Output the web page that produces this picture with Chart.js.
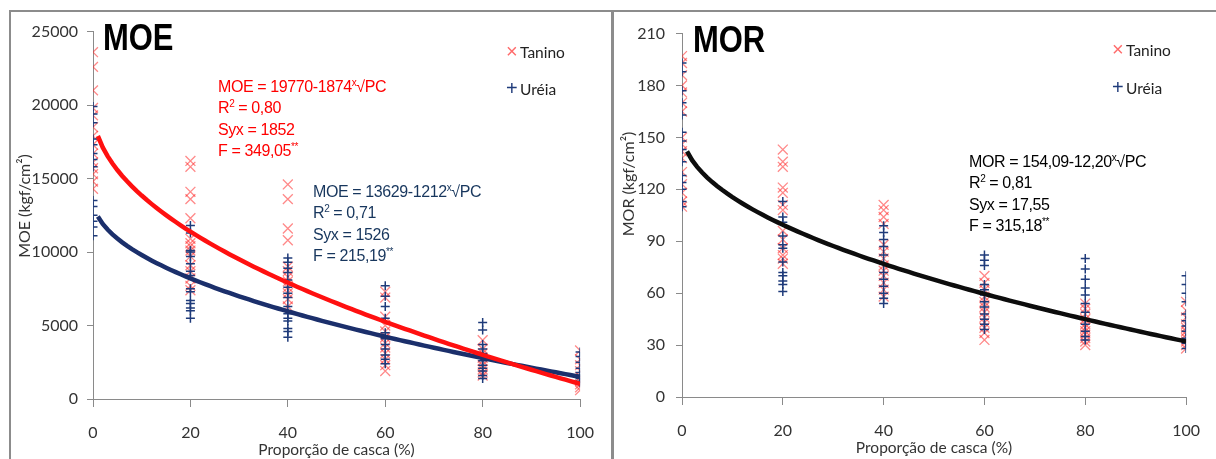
<!DOCTYPE html>
<html>
<head>
<meta charset="utf-8">
<script src="https://cdn.jsdelivr.net/npm/chart.js@4.4.1/dist/chart.umd.min.js"></script>
<style>
  body { margin: 0; background: #fff; overflow: hidden; }
  #page { position: relative; width: 1216px; height: 459px; background: #fff; }
  .frame { position: absolute; background: #8c8c8c; }
  .box { position: absolute; }
  .title { position: absolute; font-family: "Liberation Sans", Arial, sans-serif; font-weight: bold; font-size: 36px; line-height: 40px; transform: scaleX(0.86); transform-origin: left top; color: #000; }
  .eq { position: absolute; font-family: "Liberation Sans", Arial, sans-serif; font-size: 16px; line-height: 21.3px; letter-spacing: -0.4px; white-space: nowrap; }
  .eq sup { font-size: 10px; vertical-align: 6px; line-height: 0; }
  .leg { position: absolute; font-family: Lato, sans-serif; font-size: 15.5px; color: #222; white-space: nowrap; line-height: 18px; }
  .leg .mk { position: absolute; left: -14px; top: -1px; font-family: "Liberation Sans", sans-serif; font-size: 20px; }
  .ytitle { position: absolute; width: 160px; height: 20px; line-height: 20px; text-align: center; font-family: Lato, sans-serif; font-size: 16px; color: #333; transform: rotate(-90deg); white-space: nowrap; }
</style>
</head>
<body>
<div id="page">
  <div class="frame" style="left:9px; top:10px; width:1207px; height:2px;"></div>
  <div class="frame" style="left:9px; top:10px; width:2px; height:449px;"></div>
  <div class="frame" style="left:611px; top:10px; width:3px; height:449px;"></div>

  <div class="box" style="left:12px; top:13px; width:598px; height:446px;"><canvas id="chartMoe"></canvas></div>
  <div class="box" style="left:616px; top:13px; width:600px; height:446px;"><canvas id="chartMor"></canvas></div>

  <div class="ytitle" style="left:-56px; top:196px;">MOE (kgf/cm²)</div>
  <div class="ytitle" style="left:548px; top:174px;">MOR (kgf/cm²)</div>

  <div class="title" style="left:103px; top:18px;">MOE</div>
  <div class="title" style="left:693px; top:20px;">MOR</div>

  <div class="leg" style="left:520px; top:43px;"><span class="mk" style="color:#ff6b6b;">×</span>Tanino</div>
  <div class="leg" style="left:520px; top:80px;"><span class="mk" style="color:#1f3b7a;">+</span>Uréia</div>
  <div class="leg" style="left:1126px; top:41px;"><span class="mk" style="color:#ff6b6b;">×</span>Tanino</div>
  <div class="leg" style="left:1126px; top:79px;"><span class="mk" style="color:#1f3b7a;">+</span>Uréia</div>

  <div class="eq" style="left:218px; top:76px; color:#ff0000;">
    MOE = 19770-1874<sup>x</sup>√PC<br>R<sup>2</sup> = 0,80<br>Syx = 1852<br>F = 349,05<sup>**</sup>
  </div>
  <div class="eq" style="left:313px; top:181px; color:#17365d;">
    MOE = 13629-1212<sup>x</sup>√PC<br>R<sup>2</sup> = 0,71<br>Syx = 1526<br>F = 215,19<sup>**</sup>
  </div>
  <div class="eq" style="left:969px; top:151px; color:#000;">
    MOR = 154,09-12,20<sup>x</sup>√PC<br>R<sup>2</sup> = 0,81<br>Syx = 17,55<br>F = 315,18<sup>**</sup>
  </div>
</div>

<script>
// proporção de casca (%) for each group of boards
const proporcao = [0, 20, 40, 60, 80, 100];

// MOE (kgf/cm²) per proportion, one inner list for each x group
const moeTanino = [
  [23600, 22600, 21000, 19800, 19300, 18500, 17900, 17300, 16700, 16100, 15700, 15300, 14800, 14300],
  [16200, 15800, 14100, 13600, 12300, 10900, 10600, 10400, 10100, 9700, 9100, 8700, 8200, 7700, 7400],
  [14600, 13600, 11600, 10800, 9000, 8700, 8300, 8000, 7600, 7200, 6800, 6300],
  [7300, 6900, 5600, 5000, 4600, 4200, 3800, 3500, 3100, 2700, 2300, 1900],
  [4000, 3400, 3100, 2800, 2600, 2300, 2000, 1800, 1600],
  [3300, 2700, 2300, 1900, 1500, 1200, 1000, 800, 600]
];
const moeUreia = [
  [19900, 19400, 18800, 17700, 17300, 16700, 16300, 15800, 13500, 13100, 12500, 12100, 11700, 11100],
  [11800, 11300, 10100, 10000, 9700, 9200, 8700, 8400, 7500, 7300, 6700, 6500, 6200, 6000, 5500],
  [9600, 9300, 8900, 8600, 8100, 7600, 7200, 6900, 6300, 5800, 5500, 5300, 4800, 4600, 4200],
  [7700, 7000, 6300, 5500, 4500, 4100, 3700, 3400, 3000, 2700, 2400],
  [5200, 4700, 3700, 3400, 3100, 2900, 2600, 2300, 2100, 1900, 1600, 1400],
  [3200, 2900, 2500, 2100, 1800, 1600, 1400, 1200, 1100]
];

// MOR (kgf/cm²)
const morTanino = [
  [197, 193, 186, 180, 176, 170, 165, 150, 146, 142, 138, 130, 123, 118, 113, 110],
  [143, 136, 133, 121, 118, 111, 108, 96, 91, 86, 82, 80, 77],
  [111, 108, 104, 100, 88, 84, 80, 76, 73, 70, 66, 62, 58],
  [70, 66, 62, 58, 55, 52, 49, 46, 43, 40, 37, 33],
  [54, 51, 48, 45, 42, 40, 38, 36, 34, 32, 30],
  [55, 50, 46, 42, 40, 38, 36, 34, 32, 30, 28]
];
const morUreia = [
  [193, 188, 177, 170, 163, 153, 148, 143, 136, 128, 124, 120, 113, 110],
  [113, 104, 101, 93, 88, 86, 78, 72, 70, 67, 65, 61],
  [99, 95, 91, 87, 82, 77, 72, 68, 64, 60, 57, 54],
  [82, 79, 76, 65, 62, 59, 55, 52, 48, 45, 42, 39],
  [80, 74, 68, 63, 59, 54, 49, 45, 42, 38, 35, 33],
  [70, 65, 60, 55, 48, 44, 41, 38, 34, 31, 28]
];

// fitted models y = a - b * sqrt(PC)
const ajusteMoeTanino = [19770, 1874];
const ajusteMoeUreia = [13629, 1212];
const ajusteMor = [154.09, 12.20];

// min, max, step of each y axis
const moeTicks = [0, 25000, 5000];
const morTicks = [0, 210, 30];

const vermelho = "rgba(255, 40, 40, 0.55)";
const azul = "#1f3b7a";

function toPoints(groups) {
  const pts = [];
  proporcao.forEach((pc, i) => {
    groups[i].forEach((v) => pts.push({ x: pc, y: v }));
  });
  return pts;
}

function curve(coef) {
  const pts = [];
  for (let pc = 1; pc <= 100; pc++) {
    pts.push({ x: pc, y: coef[0] - coef[1] * Math.sqrt(pc) });
  }
  return pts;
}

function lineSet(coef, color) {
  return {
    data: curve(coef),
    showLine: true,
    borderColor: color,
    borderWidth: 4.5,
    pointRadius: 0,
    order: 0,
  };
}

function taninoSet(groups) {
  return {
    label: "Tanino",
    data: toPoints(groups),
    pointStyle: "crossRot",
    pointRadius: 7,
    borderColor: vermelho,
    borderWidth: 1.3,
    order: 2,
  };
}

function ureiaSet(groups) {
  return {
    label: "Uréia",
    data: toPoints(groups),
    pointStyle: "cross",
    pointRadius: 4.5,
    borderColor: azul,
    borderWidth: 1.5,
    order: 1,
  };
}

const tickFont = { family: "Lato", size: 16 };
const gray = "#8a8a8a";

function buildOptions(yTicks, yWidth, xHeight, pad, yPad, titlePadX) {
  return {
    responsive: false,
    animation: false,
    layout: { padding: pad },
    plugins: { legend: { display: false }, tooltip: { enabled: false } },
    scales: {
      x: {
        type: "linear",
        min: 0,
        max: 100,
        ticks: { stepSize: 20, font: tickFont, color: "#333", padding: 16 },
        grid: { drawOnChartArea: false, tickLength: 8, color: gray },
        border: { color: gray },
        title: {
          display: true,
          text: "Proporção de casca (%)",
          font: { family: "Lato", size: 15.5 },
          color: "#333",
          padding: { top: 0, bottom: titlePadX },
        },
        afterFit: (scale) => { scale.height = xHeight; },
      },
      y: {
        min: yTicks[0],
        max: yTicks[1],
        ticks: {
          stepSize: yTicks[2],
          font: tickFont,
          color: "#333",
          padding: yPad,
          callback: (v) => String(v),
        },
        grid: { drawOnChartArea: false, tickLength: 6, color: gray },
        border: { color: gray },
        afterFit: (scale) => { scale.width = yWidth; },
      },
    },
  };
}

function makeChart(id, w, h, datasets, options) {
  const el = document.getElementById(id);
  el.width = w;
  el.height = h;
  return new Chart(el, { type: "scatter", data: { datasets: datasets }, options: options });
}

makeChart("chartMoe", 598, 446, [
  lineSet(ajusteMoeTanino, "#ff1010"),
  lineSet(ajusteMoeUreia, "#1b2f6b"),
  ureiaSet(moeUreia),
  taninoSet(moeTanino),
], buildOptions(moeTicks, 81, 60, { top: 11, right: 22, left: 0, bottom: 0 }, 9, 0));

makeChart("chartMor", 600, 446, [
  lineSet(ajusteMor, "#0d0d0d"),
  ureiaSet(morUreia),
  taninoSet(morTanino),
], buildOptions(morTicks, 66, 62, { top: 17, right: 23, left: 0, bottom: 0 }, 11, 2));
</script>
</body>
</html>
